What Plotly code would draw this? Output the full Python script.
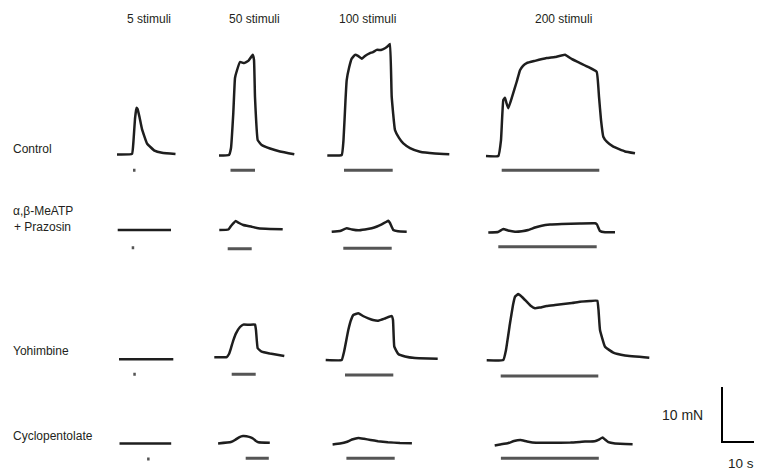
import plotly.graph_objects as go

# ---------------------------------------------------------------- data
# Each panel: time (s, from start of shown segment), force (mN above baseline),
# stimulation period [on, off] (s). Stimulation at 10 Hz.
COLUMN_TITLES = ["5 stimuli", "50 stimuli", "100 stimuli", "200 stimuli"]
ROW_LABELS = ["Control", "α,β-MeATP", "+ Prazosin", "Yohimbine", "Cyclopentolate"]
SCALE_FORCE_MN = 10
SCALE_TIME_S = 10

# Control
ctrl5_t = [0, 3.0, 3.3, 3.6, 3.9, 4.1, 4.5, 5.0, 6.0, 7.5, 9.0, 11.7]
ctrl5_f = [0, 0.1, 2.5, 6.5, 8.5, 8.3, 6.8, 4.6, 2.0, 0.7, 0.3, 0.1]
ctrl5_stim = [3.2, 3.7]

ctrl50_t = [0, 2.0, 2.4, 2.86, 3.2, 3.6, 4.2, 5.0, 5.86, 6.74, 7.0, 7.2, 7.74, 8.54, 10.2, 12.2, 15.06]
ctrl50_f = [0, 0.1, 1.36, 7.73, 14.1, 15.5, 17.0, 16.8, 17.2, 18.3, 17.4, 10.6, 2.8, 1.9, 1.27, 0.73, 0.22]
ctrl50_stim = [2.3, 7.2]

ctrl100_t = [0, 2.88, 3.24, 3.64, 3.88, 4.34, 4.88, 5.54, 6.14, 6.88, 7.54, 8.54, 9.14, 9.88, 10.74,
             11.54, 12.14, 12.54, 12.88, 13.54, 14.34, 15.2, 16.54, 18.54, 21.54, 24.4]
ctrl100_f = [0, 0.09, 2.82, 10.1, 13.7, 15.9, 17.6, 18.3, 18.1, 17.6, 18.1, 18.6, 18.8, 19.2, 19.2,
             19.5, 19.9, 20.3, 10.7, 4.6, 3.2, 2.2, 1.36, 0.69, 0.36, 0.22]
ctrl100_stim = [3.34, 13.08]

ctrl200_t = [0, 2.46, 3.0, 3.46, 3.8, 4.1, 4.46, 5.2, 6.14, 6.8, 7.4, 8.14, 9.8, 12.14, 13.8, 15.8,
             17.2, 18.8, 20.4, 22.14, 22.6, 23.0, 23.46, 24.2, 25.46, 27.8, 29.8]
ctrl200_f = [0, 0, 2.9, 10.2, 10.6, 9.6, 8.67, 10.7, 13.5, 15.6, 16.4, 16.9, 17.3, 17.8, 18.0, 18.4,
             17.6, 16.9, 16.2, 15.3, 10.8, 6.55, 3.51, 2.55, 1.69, 0.82, 0.49]
ctrl200_stim = [3.14, 22.66]

# alpha,beta-MeATP + prazosin
meatp5_t = [0, 10.66]
meatp5_f = [0, 0]
meatp5_stim = [2.8, 3.3]

meatp50_t = [0, 1.8, 2.34, 3.28, 3.94, 4.8, 6.48, 7.8, 10.14, 12.68]
meatp50_f = [0, 0.09, 0.73, 1.64, 1.27, 0.91, 0.6, 0.31, 0.18, 0.13]
meatp50_stim = [1.68, 6.48]

meatp100_t = [0, 1.66, 3.0, 4.06, 5.32, 6.66, 8.0, 9.06, 10.0, 10.86, 11.32, 11.66, 12.32, 13.26, 15.0]
meatp100_f = [0, 0.13, 0.62, 0.4, 0.25, 0.4, 0.62, 0.95, 1.35, 1.76, 2.0, 1.58, 0.31, 0.07, 0]
meatp100_stim = [2.32, 12.0]

meatp200_t = [0, 1.94, 3.0, 3.94, 5.34, 6.74, 8.0, 9.34, 10.68, 12.34, 14.68, 18.34, 21.34, 21.74,
              22.34, 23.34, 25.34]
meatp200_f = [0, 0.09, 0.64, 0.36, 0.15, 0.24, 0.45, 0.91, 1.24, 1.44, 1.55, 1.64, 1.67, 1.45,
              0.27, 0.04, 0.04]
meatp200_stim = [2.0, 21.68]

# Yohimbine
yoh5_t = [0, 10.86]
yoh5_f = [0, 0]
yoh5_stim = [2.86, 3.36]

yoh50_t = [0, 2.48, 2.94, 3.34, 3.8, 4.34, 5.14, 5.8, 6.94, 8.14, 8.34, 8.68, 9.48, 11.14, 14.0]
yoh50_f = [0, 0.05, 0.6, 1.69, 3.09, 4.36, 5.51, 5.95, 5.91, 5.95, 4.91, 1.64, 1.02, 0.69, 0.24]
yoh50_stim = [3.48, 8.28]

yoh100_t = [0, 3.2, 3.66, 4.52, 5.06, 5.52, 6.52, 7.46, 8.52, 9.46, 10.52, 11.86, 13.2, 13.46,
            13.72, 14.52, 15.86, 17.86, 22.4]
yoh100_f = [0, 0, 1.45, 5.45, 7.27, 8.18, 8.49, 8.0, 7.58, 7.27, 7.15, 7.55, 8.0, 7.27,
            2.42, 1.09, 0.64, 0.36, 0.24]
yoh100_stim = [3.86, 13.52]

yoh200_t = [0, 3.32, 3.86, 4.66, 5.26, 5.66, 6.32, 7.06, 8.0, 8.86, 9.66, 10.66, 12.0, 13.66, 15.32,
            17.06, 18.66, 20.66, 22.12, 22.36, 22.66, 23.66, 25.32, 27.66, 32.52]
yoh200_f = [0, 0.05, 1.87, 6.73, 10.05, 11.56, 12.05, 11.51, 10.65, 9.87, 9.45, 9.6, 9.87, 10.05, 10.24,
            10.42, 10.65, 10.78, 10.84, 9.15, 5.51, 2.47, 1.38, 0.87, 0.47]
yoh200_stim = [2.8, 22.32]

# Cyclopentolate
cyc5_t = [0, 10.34]
cyc5_f = [0, 0]
cyc5_stim = [5.52, 6.02]

cyc50_t = [0, 2.56, 3.38, 4.28, 4.98, 5.66, 6.38, 7.04, 7.58, 8.06, 10.34]
cyc50_f = [0, 0.25, 0.62, 1.16, 1.35, 1.31, 1.13, 0.84, 0.44, 0.22, 0.11]
cyc50_stim = [5.52, 10.14]

cyc100_t = [0, 1.48, 2.76, 3.88, 5.16, 6.28, 7.58, 9.08, 11.04, 13.48, 15.86]
cyc100_f = [0, 0.18, 0.45, 0.91, 1.2, 1.04, 0.82, 0.6, 0.42, 0.27, 0.24]
cyc100_stim = [2.76, 12.42]

cyc200_t = [0, 1.06, 2.74, 3.86, 5.16, 6.46, 8.26, 11.06, 15.16, 18.06, 20.0, 20.86, 21.58, 22.06,
            22.74, 24.06, 27.58]
cyc200_f = [0, 0.18, 0.45, 0.82, 1.0, 0.73, 0.49, 0.49, 0.53, 0.71, 0.78, 1.09, 1.45, 1.09,
            0.6, 0.36, 0.25]
cyc200_stim = [1.24, 20.82]

PANEL_DATA = [
    [(ctrl5_t, ctrl5_f, ctrl5_stim), (ctrl50_t, ctrl50_f, ctrl50_stim),
     (ctrl100_t, ctrl100_f, ctrl100_stim), (ctrl200_t, ctrl200_f, ctrl200_stim)],
    [(meatp5_t, meatp5_f, meatp5_stim), (meatp50_t, meatp50_f, meatp50_stim),
     (meatp100_t, meatp100_f, meatp100_stim), (meatp200_t, meatp200_f, meatp200_stim)],
    [(yoh5_t, yoh5_f, yoh5_stim), (yoh50_t, yoh50_f, yoh50_stim),
     (yoh100_t, yoh100_f, yoh100_stim), (yoh200_t, yoh200_f, yoh200_stim)],
    [(cyc5_t, cyc5_f, cyc5_stim), (cyc50_t, cyc50_f, cyc50_stim),
     (cyc100_t, cyc100_f, cyc100_stim), (cyc200_t, cyc200_f, cyc200_stim)],
]

# ---------------------------------------------------------------- layout
PAGE_W, PAGE_H = 762, 472
BODY_MARGIN = 8               # default page margin around the plot div
W, H = PAGE_W - BODY_MARGIN, PAGE_H - BODY_MARGIN
PX_PER_S = 5.0
PX_PER_MN = 5.5
FONT = "Liberation Sans, Arial, Helvetica, sans-serif"
TEXT_COLOR = "#231f20"
TRACE_COLOR = "#1e1e1e"
STIM_COLOR = "#555555"


def fx(px):   # page px -> figure px
    return px - BODY_MARGIN


# panel placement in page pixels: (segment left, baseline y, stimulus-bar y)
PANEL_PLACE = [
    [(117, 154.5, 170.3), (219, 155.5, 170.3), (327.3, 155.5, 170.3), (486, 156, 170.3)],
    [(117.7, 230, 247.7), (219.3, 230, 248.7), (331.7, 231.7, 248.3), (488.3, 232.5, 246.7)],
    [(119, 359.3, 374.3), (214.3, 357.3, 374.3), (325.7, 360, 375), (486.7, 360.3, 376)],
    [(119.5, 443.4, 459.0), (218.1, 443.4, 458.3), (332.6, 444.5, 458.3), (494.7, 445.5, 458.3)],
]
PANEL_W = 175      # px
PAD_L = 5          # px
UP, DOWN = 115, 22  # px above / below baseline

fig = go.Figure()
layout_axes = {}

k = 0
for r in range(4):
    for c in range(4):
        k += 1
        t, f, stim = PANEL_DATA[r][c]
        left, base, bar = PANEL_PLACE[r][c]
        left, base, bar = fx(left), fx(base), fx(bar)
        xa = "x" if k == 1 else f"x{k}"
        ya = "y" if k == 1 else f"y{k}"
        fig.add_trace(go.Scatter(x=t, y=f, mode="lines", xaxis=xa, yaxis=ya,
                                 line=dict(color=TRACE_COLOR, width=2.5, shape="spline", smoothing=0.3),
                                 hoverinfo="skip"))
        bar_y = (base - bar) / PX_PER_MN
        fig.add_trace(go.Scatter(x=stim, y=[bar_y, bar_y], mode="lines", xaxis=xa, yaxis=ya,
                                 line=dict(color=STIM_COLOR, width=3),
                                 hoverinfo="skip"))
        x0 = left - PAD_L
        layout_axes["xaxis" if k == 1 else f"xaxis{k}"] = dict(
            domain=[x0 / W, (x0 + PANEL_W) / W],
            range=[-PAD_L / PX_PER_S, (PANEL_W - PAD_L) / PX_PER_S],
            visible=False, anchor=ya)
        layout_axes["yaxis" if k == 1 else f"yaxis{k}"] = dict(
            domain=[(H - (base + DOWN)) / H, (H - (base - UP)) / H],
            range=[-DOWN / PX_PER_MN, UP / PX_PER_MN],
            visible=False, anchor=xa)

# scale bar axis
k += 1
SB_CORNER = (fx(722), fx(442))   # figure px
sb_left = SB_CORNER[0] - 20
layout_axes[f"xaxis{k}"] = dict(domain=[sb_left / W, 1.0],
                                range=[-(SB_CORNER[0] - sb_left) / PX_PER_S, (W - SB_CORNER[0]) / PX_PER_S],
                                visible=False, anchor=f"y{k}")
layout_axes[f"yaxis{k}"] = dict(domain=[(H - (SB_CORNER[1] + 10)) / H, (H - (SB_CORNER[1] - 70)) / H],
                                range=[-10 / PX_PER_MN, 70 / PX_PER_MN],
                                visible=False, anchor=f"x{k}")
fig.add_trace(go.Scatter(x=[0, 0, SCALE_TIME_S], y=[SCALE_FORCE_MN, 0, 0], mode="lines",
                         xaxis=f"x{k}", yaxis=f"y{k}",
                         line=dict(color="#000000", width=2), hoverinfo="skip"))

annotations = []


def txt(s, x, y, xanchor="center", size=12):
    annotations.append(dict(text=s, x=fx(x) / W, y=1 - fx(y) / H, xref="paper", yref="paper",
                            xanchor=xanchor, yanchor="middle", showarrow=False,
                            font=dict(family=FONT, size=size, color=TEXT_COLOR)))


for title, cx in zip(COLUMN_TITLES, [149, 254, 367, 563]):
    txt(title, cx, 19)

txt(ROW_LABELS[0], 11, 148.5, "left")
txt(ROW_LABELS[1], 11, 211, "left")
txt(ROW_LABELS[2], 12, 227, "left")
txt(ROW_LABELS[3], 11, 351, "left")
txt(ROW_LABELS[4], 11, 436, "left")
txt(f"{SCALE_FORCE_MN} mN", 682, 415, size=14)
txt(f"{SCALE_TIME_S} s", 741, 463, size=13.5)

fig.update_layout(width=W, height=H, autosize=False, margin=dict(l=0, r=0, t=0, b=0),
                  paper_bgcolor="white", plot_bgcolor="rgba(0,0,0,0)", showlegend=False,
                  annotations=annotations, **layout_axes)

fig.write_html("out.html")
